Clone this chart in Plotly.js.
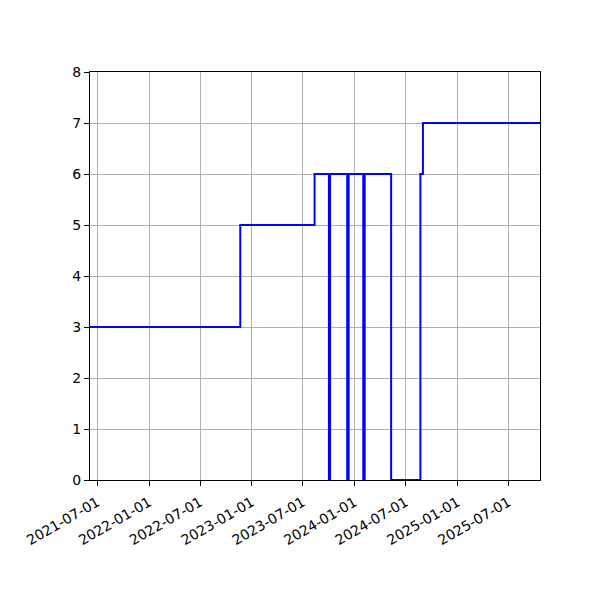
<!DOCTYPE html>
<html>
<head>
<meta charset="utf-8">
<script src="https://cdn.plot.ly/plotly-3.0.1.min.js"></script>
<style>
  body { margin: 0; background: #fff; }
  #chart { width: 600px; height: 600px; }
</style>
</head>
<body>
<div id="chart"></div>
<script>
// dates where the value changes; each value holds until the next date
var changeDates = [
    '2021-06-05', '2022-11-21', '2023-08-12',
    '2023-10-02', '2023-10-06',
    '2023-12-06', '2023-12-11',
    '2024-02-01', '2024-02-06',
    '2024-05-10', '2024-08-22', '2024-08-31', '2025-10-21'
]
var levels = [3, 5, 6, 0, 6, 0, 6, 0, 6, 0, 6, 7, 7]

var tickDates = [
    '2021-07-01', '2022-01-01', '2022-07-01', '2023-01-01', '2023-07-01',
    '2024-01-01', '2024-07-01', '2025-01-01', '2025-07-01'
]
var yTicks = [0, 1, 2, 3, 4, 5, 6, 7, 8]

var axisFont = { family: 'DejaVu Sans', size: 14, color: '#000' }

var trace = {
    x: changeDates,
    y: levels,
    type: 'scatter',
    mode: 'lines',
    line: { color: '#0000ff', width: 2, shape: 'hv' },
    hoverinfo: 'x+y'
}

var layout = {
    width: 600,
    height: 600,
    margin: { l: 90, r: 60, t: 72, b: 120 },
    paper_bgcolor: '#fff',
    plot_bgcolor: '#fff',
    showlegend: false,
    xaxis: {
        type: 'date',
        range: [changeDates[0], changeDates[changeDates.length - 1]],
        tickvals: tickDates,
        ticktext: tickDates,
        tickangle: -30,
        ticks: 'outside',
        ticklen: 5,
        tickwidth: 1,
        tickcolor: '#000',
        tickfont: axisFont,
        ticklabelstandoff: 3,
        showgrid: true,
        gridcolor: '#b0b0b0',
        gridwidth: 1,
        showline: true,
        linecolor: '#000',
        linewidth: 1,
        mirror: true,
        zeroline: false
    },
    yaxis: {
        range: [0, 8],
        tickvals: yTicks,
        ticks: 'outside',
        ticklen: 5,
        tickwidth: 1,
        tickcolor: '#000',
        tickfont: axisFont,
        showgrid: true,
        gridcolor: '#b0b0b0',
        gridwidth: 1,
        showline: true,
        linecolor: '#000',
        linewidth: 1,
        mirror: true,
        zeroline: false
    }
}

Plotly.newPlot('chart', [trace], layout, { displayModeBar: false, staticPlot: true })
</script>
</body>
</html>
